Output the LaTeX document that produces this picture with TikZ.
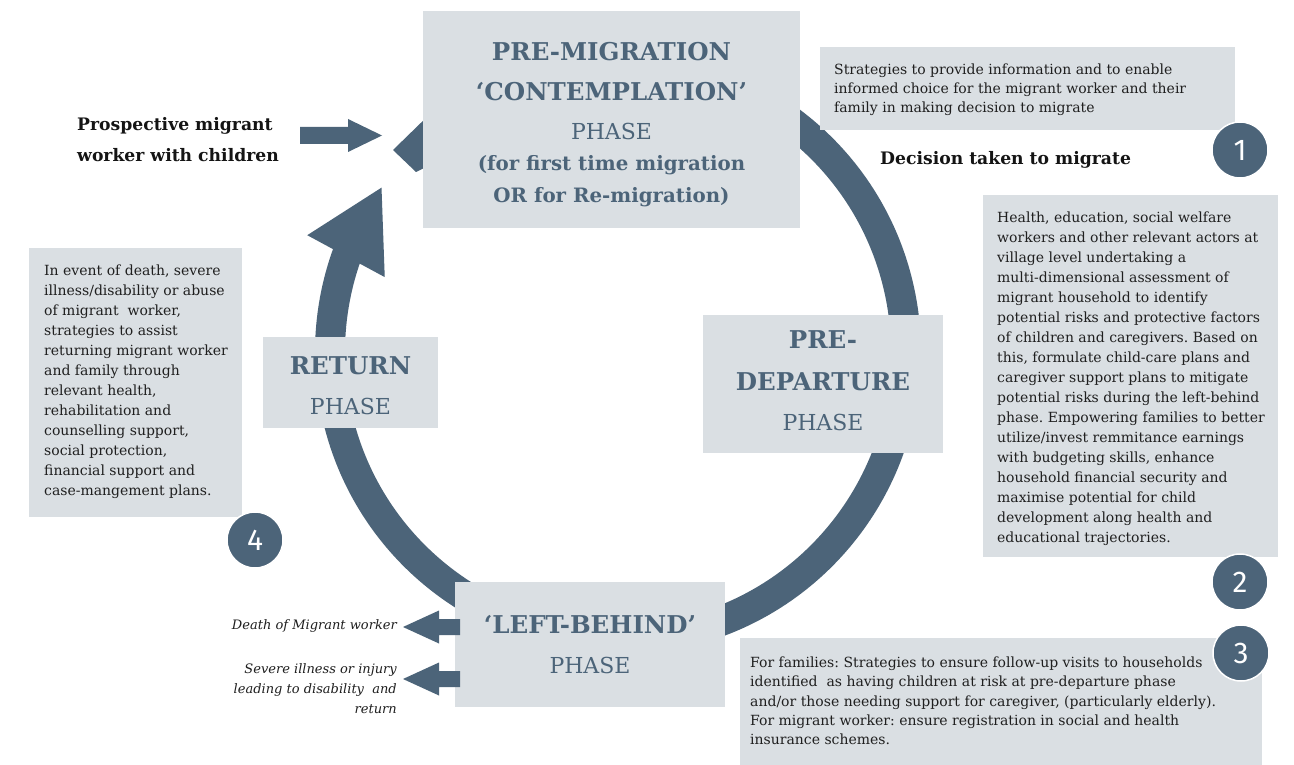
\documentclass[tikz,border=0pt]{standalone}
\usepackage{fontspec}
\setmainfont{DejaVu Serif}
\newfontfamily\numfont{Fira Sans}
\usetikzlibrary{calc}
\definecolor{slate}{HTML}{4C6479}
\definecolor{panelc}{HTML}{DADFE3}
\definecolor{inkc}{HTML}{1F1F1F}
\newcommand{\bodysize}{\fontsize{14}{20}\selectfont}
\newcommand{\titlesize}{\fontsize{24.5}{30}\selectfont\bfseries}
\newcommand{\phasesize}{\fontsize{22}{30}\selectfont\mdseries}
\newcommand{\subsize}{\fontsize{19.8}{30}\selectfont}
\begin{document}
\frenchspacing
\begin{tikzpicture}[x=1pt,y=-1pt,
  panel/.style={fill=panelc, inner sep=0pt, outer sep=0pt},
  notetext/.style={align=left, text=inkc, font=\bodysize, inner sep=0pt, anchor=west},
  phasetext/.style={align=center, text=slate, font=\titlesize, inner sep=0pt},
  numdot/.style={circle, fill=slate, draw=white, line width=1.5pt, minimum size=56pt, inner sep=0pt, text=white, font=\numfont\fontsize{30}{30}\selectfont},
  lead/.style={text=black!92, font=\fontsize{17.2}{31}\selectfont\bfseries, inner sep=0pt},
  cause/.style={text=inkc, font=\fontsize{13}{20}\selectfont\itshape, align=right, anchor=east, inner sep=0pt},
  ring/.style={draw=slate, line width=30pt},
  blockarrow/.style={fill=slate}
]
\useasboundingbox[fill=white] (0,0) rectangle (1294,765);

% the cycle ring with its arrowhead
\coordinate (ctr) at (618,352);
\draw[ring] ([shift={(-100:288)}]ctr) arc[start angle=-100, end angle=201, radius=288];
\fill[slate] ([shift={(214.8:288)}]ctr) -- ([shift={(200.6:332)}]ctr) -- ([shift={(197.8:245)}]ctr) -- cycle;
\fill[slate] (393,150) -- (430,114) -- (440,160) -- (416,172) -- cycle;

% phase boxes
\node[panel, minimum width=377pt, minimum height=217pt] (premig) at (611.5,119.5) {};
\node[phasetext, yshift=-5.5pt] (premigtext) at (premig.center)
  {PRE-MIGRATION\\[10pt]‘CONTEMPLATION’\\[9pt]{\phasesize PHASE}\\[1pt]{\subsize (for first time migration}\\[2pt]{\subsize OR for Re-migration)}};
\node[panel, minimum width=240pt, minimum height=138pt] (predep) at (823,384) {};
\node[phasetext, yshift=3pt] (predeptext) at (predep.center)
  {PRE-\\[12pt]DEPARTURE\\[10pt]{\phasesize PHASE}};
\node[panel, minimum width=270pt, minimum height=125pt] (left) at (590,644.5) {};
\node[phasetext] (lefttext) at (left.center)
  {‘LEFT-BEHIND’\\[10pt]{\phasesize PHASE}};
\node[panel, minimum width=175pt, minimum height=91pt] (return) at (350.5,382.5) {};
\node[phasetext, yshift=-3.5pt] (returntext) at (return.center)
  {RETURN\\[10pt]{\phasesize PHASE}};

% strategy notes
\node[panel, minimum width=415pt, minimum height=83pt] (note1) at (1027.5,88.5) {};
\node[notetext, font=\fontsize{14}{19.2}\selectfont, yshift=-1.5pt] (note1text) at ([xshift=14pt]note1.west)
  {Strategies to provide information and to enable\\informed choice for the migrant worker and their\\family in making decision to migrate};
\node[panel, minimum width=295pt, minimum height=362pt] (note2) at (1130.5,376) {};
\node[notetext, yshift=-3pt] (note2text) at ([xshift=14pt]note2.west)
  {Health, education, social welfare\\workers and other relevant actors at\\village level undertaking a\\multi-dimensional assessment of\\migrant household to identify\\potential risks and protective factors\\of children and caregivers. Based on\\this, formulate child-care plans and\\caregiver support plans to mitigate\\potential risks during the left-behind\\phase. Empowering families to better\\utilize/invest remmitance earnings\\with budgeting skills, enhance\\household financial security and\\maximise potential for child\\development along health and\\educational trajectories.};
\node[panel, minimum width=522pt, minimum height=127pt] (note3) at (1001,701) {};
\node[notetext, font=\fontsize{14}{19.3}\selectfont] (note3text) at ([xshift=10pt]note3.west)
  {For families: Strategies to ensure follow-up visits to households\\identified\ \ as having children at risk at pre-departure phase\\and/or those needing support for caregiver, (particularly elderly).\\For migrant worker: ensure registration in social and health\\insurance schemes.};
\node[panel, minimum width=213pt, minimum height=269pt] (note4) at (135.5,382.5) {};
\node[notetext, yshift=1pt] (note4text) at ([xshift=15pt]note4.west)
  {In event of death, severe\\illness/disability or abuse\\of migrant\ \ worker,\\strategies to assist\\returning migrant worker\\and family through\\relevant health,\\rehabilitation and\\counselling support,\\social protection,\\financial support and\\case-mangement plans.};

% step numbers
\node[numdot] (n1) at (1240,150) {1};
\node[numdot] (n2) at (1240,582) {2};
\node[numdot] (n3) at (1241,653) {3};
\node[numdot] (n4) at (255,540) {4};

% lead texts
\node[lead, align=left, anchor=west] (prosp) at (77,139.5) {Prospective migrant\\worker with children};
\node[lead, anchor=west] (decide) at (880,160) {Decision taken to migrate};

% entry arrow towards the pre-migration phase
\fill[blockarrow] (300,127) -- (348,127) -- (348,119) -- (382,135.5) -- (348,152) -- (348,144) -- (300,144) -- cycle;

% exits out of the left-behind phase
\node[cause] (death) at (397,626) {Death of Migrant worker};
\node[cause] (ill) at (397,689) {Severe illness or injury\\leading to disability\ \ and\\return};
\fill[blockarrow] (403,627) -- (439,610.5) -- (439,619) -- (460,619) -- (460,635) -- (439,635) -- (439,643.5) -- cycle;
\fill[blockarrow] (403,679) -- (439,662.5) -- (439,671) -- (460,671) -- (460,687) -- (439,687) -- (439,695.5) -- cycle;
\end{tikzpicture}
\end{document}
